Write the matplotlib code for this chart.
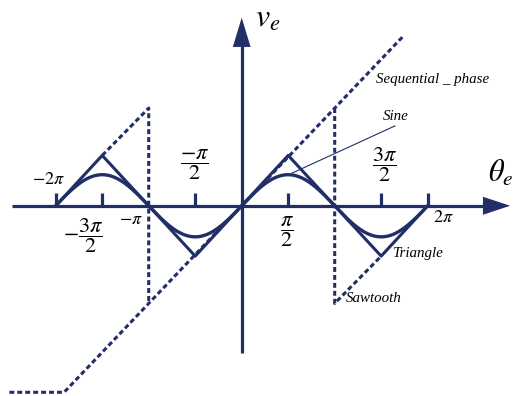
import numpy as np
import matplotlib.pyplot as plt
from matplotlib.patches import Polygon

plt.rcParams['mathtext.fontset'] = 'stix'
plt.rcParams['font.family'] = 'Liberation Serif'

navy = '#212f66'
pi = np.pi

# waveforms, theta in rad
sine_amp = 1.0
tri_theta = np.array([-2, -1.5, -1, -0.5, 0, 0.5, 1, 1.5, 2]) * pi
tri_v = np.array([0, 1.62, 0, -1.62, 0, 1.62, 0, -1.62, 0])
# sawtooth ramp between -pi and pi lies on the sequential phase line
saw_left_theta = np.array([-1.5, -1, -1]) * pi
saw_left_v = np.array([1.62, pi, -pi])
saw_right_theta = np.array([1, 1, 1.5]) * pi
saw_right_v = np.array([pi, -pi, -1.62])
seq_theta = np.array([-7.85, -6.0, 5.45])
seq_v = np.array([-6.0, -6.0, 5.45])
sine_leader = ([1.70, 5.18], [1.05, 2.57])

tick_pos = np.array([-2, -1.5, -0.5, 0.5, 1.5, 2]) * pi
tick_labels = [
    (r'$-2\pi$', -6.54, 0.83),
    (r'$-\dfrac{3\pi}{2}$', -5.36, -0.95),
    (r'$-\pi$', -3.74, -0.44),
    (r'$\dfrac{-\pi}{2}$', -1.58, 1.33),
    (r'$\dfrac{\pi}{2}$', 1.53, -0.82),
    (r'$\dfrac{3\pi}{2}$', 4.84, 1.33),
    (r'$2\pi$', 6.80, -0.38),
]
curve_names = [
    ('Sequential _ phase', 4.54, 4.06),
    ('Sine', 4.77, 2.86),
    ('Triangle', 5.08, -1.52),
    ('Sawtooth', 3.52, -2.98),
]

fig = plt.figure(figsize=(5.13, 3.96), dpi=100)
ax = fig.add_axes([0, 0, 1, 1])
ax.set_xlim(-8.166, 9.166)
ax.set_ylim(-6.12, 6.62)
ax.axis('off')

dash = (0, (1.6, 1.0))

# axes with arrow heads
ax.plot([-7.76, 8.2], [0, 0], color=navy, lw=2.3, solid_capstyle='butt')
ax.plot([0, 0], [-4.73, 5.2], color=navy, lw=2.3, solid_capstyle='butt')
ax.add_patch(Polygon([[8.15, 0.29], [9.07, 0], [8.15, -0.29]], closed=True,
                     color=navy, lw=0))
ax.add_patch(Polygon([[-0.30, 5.11], [0, 6.05], [0.30, 5.11]], closed=True,
                     color=navy, lw=0))
for t in tick_pos:
    ax.plot([t, t], [0, 0.41], color=navy, lw=2.3, solid_capstyle='butt')

th = np.linspace(-2 * pi, 2 * pi, 400)
ax.plot(th, sine_amp * np.sin(th), color=navy, lw=2.4)
ax.plot(tri_theta, tri_v, color=navy, lw=2.2)
for st, sv in [(saw_left_theta, saw_left_v), (saw_right_theta, saw_right_v)]:
    ax.plot(st, sv, color=navy, lw=2.2, linestyle=dash, dash_capstyle='butt')
ax.plot(seq_theta, seq_v, color=navy, lw=2.2, linestyle=dash, dash_capstyle='butt')
ax.plot(*sine_leader, color=navy, lw=0.8)

for s, x, y in tick_labels:
    fs = 13 if 'frac' not in s else 16
    ax.text(x, y, s, fontsize=fs, ha='center', va='center', color='black')
for s, x, y in curve_names:
    ax.text(x, y, s, fontsize=10.8, style='italic', ha='left', va='center', color='black')

ax.text(0.45, 5.75, r'$v_e$', fontsize=23, ha='left', va='baseline')
ax.text(8.33, 0.76, r'$\theta_e$', fontsize=22, ha='left', va='baseline')

plt.savefig('out.png', dpi=100)
plt.close()
